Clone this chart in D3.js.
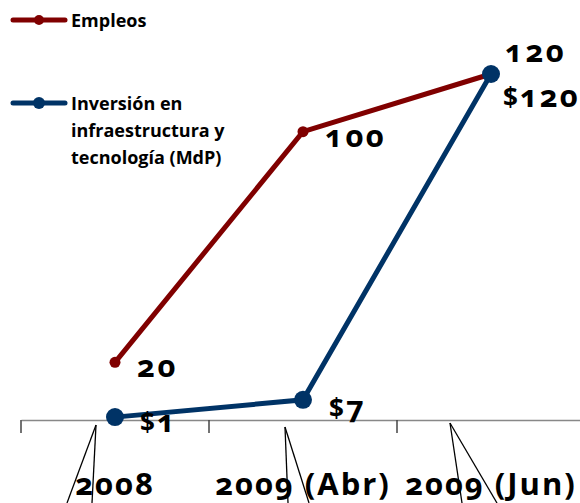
<!DOCTYPE html>
<html>
<head>
<meta charset="utf-8">
<script src="https://cdn.jsdelivr.net/npm/d3@7"></script>
<style>
  body { margin: 0; background: #fff; }
  text { font-family: "Open Sans", Lato, sans-serif; font-feature-settings: "onum"; font-variant-numeric: oldstyle-nums; }
</style>
</head>
<body>
<div id="chart"></div>
<script>
// Datos
const categorias = ["2008", "2009 (Abr)", "2009 (Jun)"];
const empleos = [20, 100, 120];
const inversion = [1, 7, 120];
const etiquetasEmpleos = ["20", "100", "120"];
const etiquetasInversion = ["$1", "$7", "$120"];

const WIDTH = 580;
const HEIGHT = 503;
const ROJO = "#800000";
const AZUL = "#003366";

const svg = d3.select("#chart").append("svg")
    .attr("width", WIDTH)
    .attr("height", HEIGHT);

// Escalas
const x = d3.scaleBand()
    .domain(categorias)
    .range([21, 585]);

const y = d3.scaleLinear()
    .domain([0, 120])
    .range([420, 74]);

// Eje x
const ejeX = svg.append("g")
    .attr("transform", `translate(0, ${y(0)})`)
    .call(d3.axisBottom(x).tickSize(0).tickFormat(""));
ejeX.select(".domain").attr("stroke", "#888").attr("stroke-width", 1.5);

// Marcas del eje entre categorías
const limites = [0, 1, 2, 3].map(i => x.range()[0] + i * x.step());
svg.append("g").selectAll("line")
    .data(limites)
    .enter().append("line")
    .attr("x1", d => d).attr("x2", d => d)
    .attr("y1", y(0)).attr("y2", y(0) + 13)
    .attr("stroke", "#444")
    .attr("stroke-width", 1.5);

// Líneas guía raras bajo el eje (vienen del original)
const guias = [
  { ax: -19, ay: 5, b1: -23, b2: -48 },
  { ax: -18, ay: 7, b1: -15, b2: 6 },
  { ax: -41, ay: 3, b1: -29, b2: 6 }
];
const gGuias = svg.append("g");
guias.forEach((g, i) => {
  const cx = x(categorias[i]) + x.bandwidth() / 2;
  [g.b1, g.b2].forEach(b => {
    gGuias.append("line")
      .attr("x1", cx + g.ax).attr("y1", y(0) + g.ay)
      .attr("x2", cx + b).attr("y2", HEIGHT)
      .attr("stroke", "#000")
      .attr("stroke-width", 1.3);
  });
});

// Etiquetas del eje x
svg.append("g").selectAll("text")
    .data(categorias)
    .enter().append("text")
    .attr("x", d => x(d) + x.bandwidth() / 2)
    .attr("y", 495)
    .attr("text-anchor", "middle")
    .style("font-size", "31px")
    .style("font-weight", "bold")
    .style("letter-spacing", "2px")
    .attr("fill", "#000")
    .text(d => d);

// Líneas
const linea = d3.line()
    .x((d, i) => x(categorias[i]) + x.bandwidth() / 2)
    .y(d => y(d));

svg.append("path")
    .datum(empleos)
    .attr("d", linea)
    .attr("fill", "none")
    .attr("stroke", ROJO)
    .attr("stroke-width", 5);

svg.append("g").selectAll("circle")
    .data(empleos)
    .enter().append("circle")
    .attr("cx", (d, i) => x(categorias[i]) + x.bandwidth() / 2)
    .attr("cy", d => y(d))
    .attr("r", 5.5)
    .attr("fill", ROJO);

svg.append("path")
    .datum(inversion)
    .attr("d", linea)
    .attr("fill", "none")
    .attr("stroke", AZUL)
    .attr("stroke-width", 5);

svg.append("g").selectAll("circle")
    .data(inversion)
    .enter().append("circle")
    .attr("cx", (d, i) => x(categorias[i]) + x.bandwidth() / 2)
    .attr("cy", d => y(d))
    .attr("r", 9)
    .attr("fill", AZUL);

// Etiquetas de datos (desplazamientos de cada etiqueta)
const despEmpleos = [[22, 15], [22, 15], [14, -12]];
const despInversion = [[25, 15], [26, 18], [12, 33]];

function etiqueta(sel, s) {
  // el "$" va algo más estrecho, como en el original
  if (s[0] === "$") {
    sel.append("tspan").style("font-size", "26px").text("$");
    sel.append("tspan").text(s.slice(1));
  } else {
    sel.text(s);
  }
}

svg.append("g").selectAll("text")
    .data(empleos)
    .enter().append("text")
    .attr("x", (d, i) => x(categorias[i]) + x.bandwidth() / 2 + despEmpleos[i][0])
    .attr("y", (d, i) => y(d) + despEmpleos[i][1])
    .style("font-size", "31px")
    .style("font-weight", "bold")
    .style("letter-spacing", "2.5px")
    .each(function(d, i) { etiqueta(d3.select(this), etiquetasEmpleos[i]); });

svg.append("g").selectAll("text")
    .data(inversion)
    .enter().append("text")
    .attr("x", (d, i) => x(categorias[i]) + x.bandwidth() / 2 + despInversion[i][0])
    .attr("y", (d, i) => y(d) + despInversion[i][1])
    .style("font-size", "31px")
    .style("font-weight", "bold")
    .style("letter-spacing", "2px")
    .each(function(d, i) { etiqueta(d3.select(this), etiquetasInversion[i]); });

// Leyenda
const leyenda = [
  { color: ROJO, r: 5, lineas: ["Empleos"], y: 20 },
  { color: AZUL, r: 6, lineas: ["Inversión en", "infraestructura y", "tecnología (MdP)"], y: 103 }
];
const gLey = svg.append("g");
leyenda.forEach(l => {
  gLey.append("line")
    .attr("x1", 13).attr("x2", 65)
    .attr("y1", l.y).attr("y2", l.y)
    .attr("stroke", l.color)
    .attr("stroke-width", 5)
    .attr("stroke-linecap", "round");
  gLey.append("circle")
    .attr("cx", 39).attr("cy", l.y).attr("r", l.r)
    .attr("fill", l.color);
  const t = gLey.append("text")
    .attr("x", 71)
    .attr("y", l.y + 7)
    .style("font-size", "18px")
    .style("font-weight", "bold");
  l.lineas.forEach((s, j) => {
    t.append("tspan").attr("x", 71).attr("dy", j === 0 ? 0 : 27).text(s);
  });
});
</script>
</body>
</html>
